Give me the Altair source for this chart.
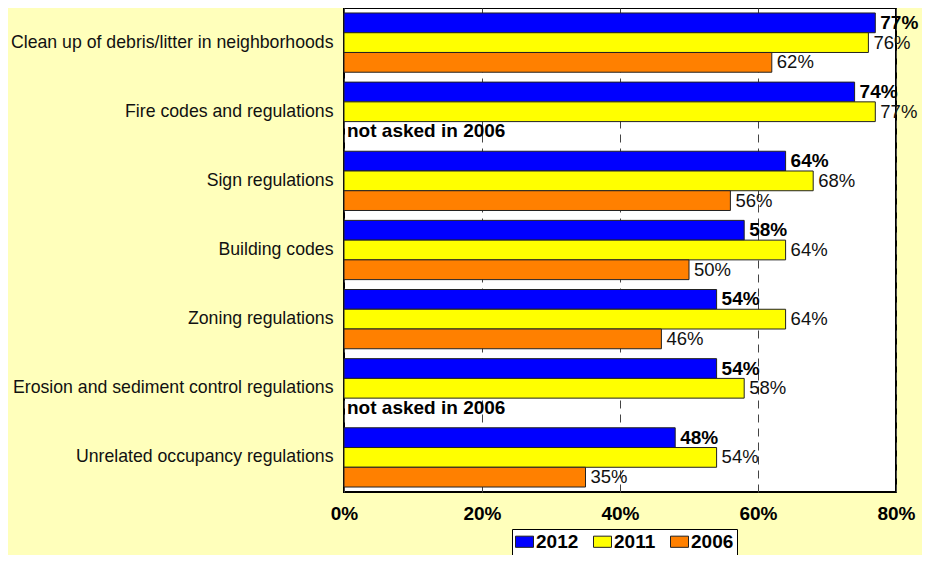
import altair as alt
import pandas as pd

categories = [
    "Clean up of debris/litter in neighborhoods",
    "Fire codes and regulations",
    "Sign regulations",
    "Building codes",
    "Zoning regulations",
    "Erosion and sediment control regulations",
    "Unrelated occupancy regulations",
]
years = ["2012", "2011", "2006"]
v2012 = [77, 74, 64, 58, 54, 54, 48]
v2011 = [76, 77, 68, 64, 64, 58, 54]
v2006 = [62, None, 56, 50, 46, None, 35]
note_text = "not asked in 2006"
colors = ["#0000FF", "#FFFF00", "#FF8000"]
x_ticks = [0, 20, 40, 60, 80]

rows = []
for i, c in enumerate(categories):
    for yr, vals in zip(years, [v2012, v2011, v2006]):
        v = vals[i]
        if v is not None:
            rows.append({"category": c, "year": yr, "value": v, "label": f"{v}%"})
df = pd.DataFrame(rows)
notes = pd.DataFrame(
    [{"category": c, "year": "2006", "note": note_text}
     for c, v in zip(categories, v2006) if v is None]
)

FONT = "Liberation Sans"

y_enc = alt.Y(
    "category:N",
    sort=categories,
    scale=alt.Scale(paddingInner=0.143, paddingOuter=0.072),
    axis=alt.Axis(title=None, labelFontSize=17.7, labelPadding=11, ticks=False,
                  domain=False, labelLimit=500, labelColor="#111", labelFont=FONT),
)
yoff = alt.YOffset("year:N", sort=years,
                   scale=alt.Scale(domain=years, paddingInner=0, paddingOuter=0))
x_enc = alt.X(
    "value:Q",
    scale=alt.Scale(domain=[0, 80], nice=False, zero=True),
    axis=alt.Axis(values=x_ticks, labelExpr="datum.value + '%'", title=None,
                  ticks=False, domain=False, grid=True, gridDash=[8, 6],
                  gridColor="#444", gridWidth=1, labelFontSize=19,
                  labelFontWeight="bold", labelPadding=12, labelFont=FONT,
                  labelColor="#000", labelFlush=False),
)

base = alt.Chart(df)

bars = base.mark_bar(stroke="#222", strokeWidth=1).encode(
    x=x_enc,
    y=y_enc,
    yOffset=yoff,
    color=alt.Color(
        "year:N",
        sort=years,
        scale=alt.Scale(domain=years, range=colors),
        legend=alt.Legend(
            title=None, orient="none", legendX=168, legendY=521,
            direction="horizontal", fillColor="white", strokeColor="black",
            padding=3, labelFontSize=19, labelFontWeight="bold", labelFont=FONT,
            labelColor="#000", labelOffset=2, columnPadding=12,
            symbolType="M-1,-0.62H1V0.62H-1Z", symbolSize=324,
            symbolStrokeColor="#222", symbolStrokeWidth=1, symbolOpacity=1,
        ),
    ),
)

text2012 = base.transform_filter("datum.year == '2012'").mark_text(
    align="left", baseline="middle", dx=5, fontSize=19, fontWeight="bold",
    color="#000", font=FONT,
).encode(x=x_enc, y=y_enc, yOffset=yoff, text="label:N")

text_other = base.transform_filter("datum.year != '2012'").mark_text(
    align="left", baseline="middle", dx=5, fontSize=18.5, color="#111", font=FONT,
).encode(x=x_enc, y=y_enc, yOffset=yoff, text="label:N")

note_layer = alt.Chart(notes).mark_text(
    align="left", baseline="middle", dx=3, fontSize=19, fontWeight="bold",
    color="#000", font=FONT,
).encode(x=alt.datum(0), y=y_enc, yOffset=yoff, text="note:N")

chart = alt.layer(bars, text2012, text_other, note_layer).properties(
    width=552,
    height=484,
    padding={"left": 336, "top": 0, "right": 26, "bottom": 63},
    autosize=alt.AutoSizeParams(type="none"),
    background="#FFFFBB",
).configure_view(fill="white", stroke="black", strokeWidth=2)

chart.save("out.html", embed_options={"renderer": "svg", "actions": False})
